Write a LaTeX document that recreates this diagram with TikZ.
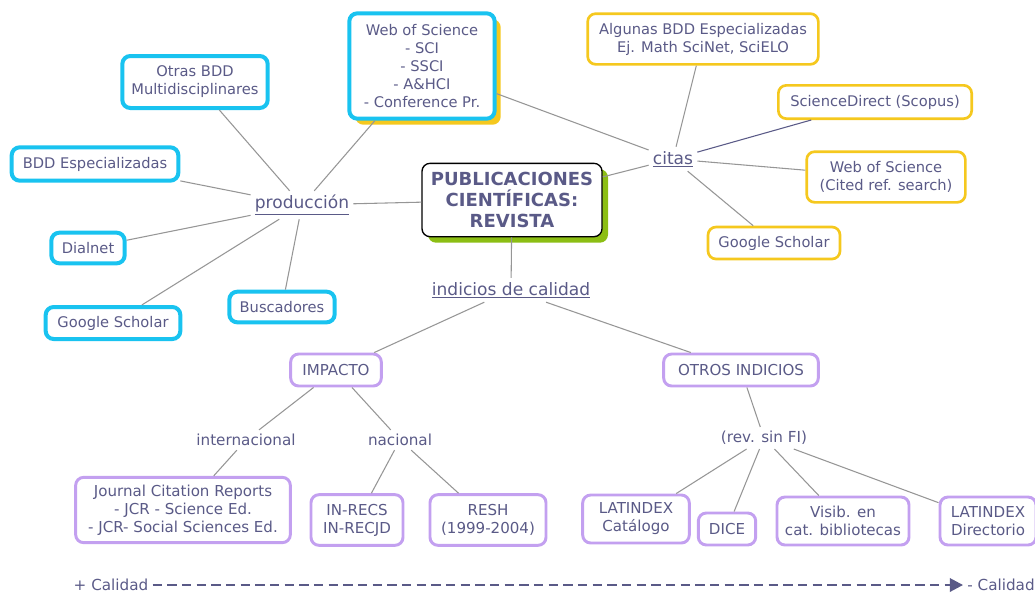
\documentclass[tikz,border=0pt]{standalone}
\usepackage{fontspec}
\setmainfont{DejaVu Sans}
\usetikzlibrary{arrows.meta, shadows}

\definecolor{textc}{RGB}{90,90,135}
\definecolor{cyanc}{RGB}{25,195,240}
\definecolor{yelc}{RGB}{245,200,30}
\definecolor{purc}{RGB}{195,160,240}
\definecolor{greenc}{RGB}{140,190,20}
\definecolor{linec}{RGB}{150,150,150}

\tikzset{
	box/.style={rectangle, rounded corners=6pt, fill=white, text=textc, align=center, inner sep=2pt, font=\fontsize{11}{13.5}\selectfont},
	bluebox/.style={box, draw=cyanc, line width=3pt},
	yelbox/.style={box, draw=yelc, line width=2pt},
	purbox/.style={box, draw=purc, line width=2.2pt, font=\fontsize{11.3}{13.5}\selectfont},
	linkword/.style={text=textc, inner sep=3pt, font=\fontsize{12.8}{15}\selectfont},
	subword/.style={text=textc, inner sep=3pt, font=\fontsize{11.4}{13.5}\selectfont},
	link/.style={draw=linec, line width=0.8pt},
}

\begin{document}
\begin{tikzpicture}[x=0.75pt, y=-0.75pt]
	\useasboundingbox (0,0) rectangle (1035,594);
	% centre
	\node[box, draw=black, line width=1pt, minimum width=135pt, minimum height=55pt,
		drop shadow={shadow xshift=4.5pt, shadow yshift=-4.5pt, fill=greenc, opacity=1},
		font=\fontsize{13.5}{16}\selectfont\bfseries] (pub) at (512,200) {PUBLICACIONES\\CIENTÍFICAS:\\REVISTA};
	% produccion
	\node[linkword] (prod) at (302,205) {\underline{producción}};
	\node[bluebox, minimum width=109pt, minimum height=79pt,
		drop shadow={shadow xshift=4.5pt, shadow yshift=-4.5pt, fill=yelc, opacity=1}] (wos) at (422,66) {Web of Science\\- SCI\\- SSCI\\- A\&HCI\\- Conference Pr.};
	\node[bluebox, minimum width=109pt, minimum height=39pt] (otras) at (195,82) {Otras BDD\\Multidisciplinares};
	\node[bluebox, minimum width=125pt, minimum height=25pt] (bddesp) at (95,164) {BDD Especializadas};
	\node[bluebox, minimum width=55pt, minimum height=23pt] (dialnet) at (88,248) {Dialnet};
	\node[bluebox, minimum width=101pt, minimum height=24pt] (gsleft) at (113,323) {Google Scholar};
	\node[bluebox, minimum width=79pt, minimum height=23pt] (busc) at (282,307) {Buscadores};
	% citas
	\node[linkword] (citas) at (673,159) {\underline{citas}};
	\node[yelbox, minimum width=173pt, minimum height=38pt] (algunas) at (703,39) {Algunas BDD Especializadas\\Ej. Math SciNet, SciELO};
	\node[yelbox, minimum width=145pt, minimum height=25pt] (scidir) at (875,102) {ScienceDirect (Scopus)};
	\node[yelbox, minimum width=119pt, minimum height=38pt] (woscit) at (886,177) {Web of Science\\(Cited ref. search)};
	\node[yelbox, minimum width=99pt, minimum height=24pt] (gsright) at (774,243) {Google Scholar};
	% indicios
	\node[linkword] (indic) at (511,290) {\underline{indicios de calidad}};
	\node[purbox, minimum width=68pt, minimum height=24pt] (impacto) at (336,370) {IMPACTO};
	\node[purbox, minimum width=116pt, minimum height=24pt] (otros) at (741,370) {OTROS INDICIOS};
	\node[subword] (inter) at (246,440) {internacional};
	\node[subword] (nac) at (400,440) {nacional};
	\node[subword] (rev) at (764,438) {(rev. sin FI)};
	\node[purbox, minimum width=161pt, minimum height=49pt] (jcr) at (183,510) {Journal Citation Reports\\- JCR - Science Ed.\\- JCR- Social Sciences Ed.};
	\node[purbox, minimum width=69pt, minimum height=38pt] (inrecs) at (357,520) {IN-RECS\\IN-RECJD};
	\node[purbox, minimum width=87pt, minimum height=38pt] (resh) at (488,520) {RESH\\(1999-2004)};
	\node[purbox, minimum width=80pt, minimum height=36pt] (latcat) at (636,519) {LATINDEX\\Catálogo};
	\node[purbox, minimum width=43pt, minimum height=24pt] (dice) at (727,529) {DICE};
	\node[purbox, minimum width=99pt, minimum height=36pt] (visib) at (843,521) {Visib. en\\cat. bibliotecas};
	\node[purbox, minimum width=72pt, minimum height=36pt] (latdir) at (988,521) {LATINDEX\\Directorio};
	% scale
	\node[subword] (masc) at (111,585) {+ Calidad};
	\node[subword] (menosc) at (1001,585) {- Calidad};

	\draw[link] (prod) -- (pub);
	\draw[link] (prod) -- (wos);
	\draw[link] (prod) -- (otras);
	\draw[link] (prod) -- (bddesp);
	\draw[link] (prod) -- (dialnet);
	\draw[link] (prod) -- (gsleft);
	\draw[link] (prod) -- (busc);
	\draw[link] (citas) -- (pub);
	\draw[link] (citas) -- (wos);
	\draw[link] (citas) -- (algunas);
	\draw[link, draw=textc] (citas) -- (scidir);
	\draw[link] (citas) -- (woscit);
	\draw[link] (citas) -- (gsright);
	\draw[link] (pub) -- (indic);
	\draw[link] (indic) -- (impacto);
	\draw[link] (indic) -- (otros);
	\draw[link] (impacto) -- (inter);
	\draw[link] (impacto) -- (nac);
	\draw[link] (inter) -- (jcr);
	\draw[link] (nac) -- (inrecs);
	\draw[link] (nac) -- (resh);
	\draw[link] (otros) -- (rev);
	\draw[link] (rev) -- (latcat);
	\draw[link] (rev) -- (dice);
	\draw[link] (rev) -- (visib);
	\draw[link] (rev) -- (latdir);
	\draw[draw=textc, line width=2pt, dash pattern=on 7pt off 4pt, -{Triangle[length=10pt, width=10pt]}] (masc) -- (menosc);
\end{tikzpicture}
\end{document}
